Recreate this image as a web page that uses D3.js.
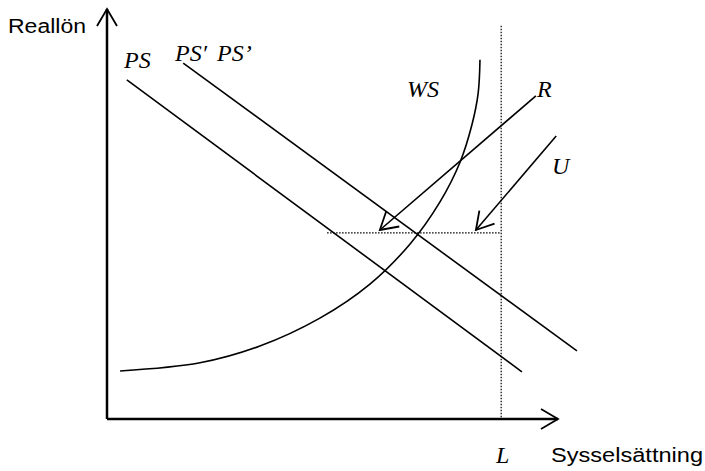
<!DOCTYPE html>
<html>
<head>
<meta charset="utf-8">
<script src="https://cdn.jsdelivr.net/npm/d3@7"></script>
<style>
  body { margin: 0; background: #fff; }
  .lab { font-family: "Liberation Sans", Arial, sans-serif; font-size: 19.5px; }
  .sym { font-family: "Liberation Serif", "Times New Roman", serif; font-style: italic; font-size: 24px; }
</style>
</head>
<body>
<div id="chart-area"></div>
<script>
// data units: employment (x) and real wage (y), both 0..100
var psLine = [[4.4, 82.7], [92.0, 11.5]];
var psPrimeLine = [[16.9, 86.8], [104.2, 16.6]];
var wsCurve = [[2.9, 11.7], [20.6, 13.7], [33.9, 17.8], [47.2, 24.6], [58.3, 32.9],
    [67.2, 42.7], [73.8, 52.9], [78.3, 62.7], [80.9, 71.7], [82.3, 79.5], [82.7, 87.6]];
var laborForce = 87.4;          // L
var laborTop = 95.9;
var wageLevel = 45.4;           // dotted horizontal
var wageFrom = 48.8;
var arrowR = [[95.1, 78.8], [60.5, 46.1]];
var arrowU = [[99.6, 69.0], [81.8, 46.1]];

var width = 705, height = 471;

var svg = d3.select("#chart-area")
    .append("svg")
        .attr("width", width)
        .attr("height", height);

var x = d3.scaleLinear().domain([0, 100]).range([107, 558]);
var y = d3.scaleLinear().domain([0, 100]).range([419, 9]);

// open arrow head
svg.append("defs").append("marker")
    .attr("id", "head")
    .attr("markerUnits", "userSpaceOnUse")
    .attr("viewBox", "-20 -12 22 24")
    .attr("markerWidth", 22)
    .attr("markerHeight", 24)
    .attr("refX", 0)
    .attr("refY", 0)
    .attr("orient", "auto")
  .append("path")
    .attr("d", "M-17,-10L0,0L-17,10")
    .attr("fill", "none")
    .attr("stroke", "#000")
    .attr("stroke-width", 1.8);

var line = d3.line()
    .x(function(d){ return x(d[0]); })
    .y(function(d){ return y(d[1]); });

// Axes
svg.append("line")
    .attr("x1", x(0)).attr("y1", y(0))
    .attr("x2", x(0)).attr("y2", y(100))
    .attr("stroke", "#000")
    .attr("stroke-width", 2.5)
    .attr("marker-end", "url(#head)");
svg.append("line")
    .attr("x1", x(0)).attr("y1", y(0))
    .attr("x2", x(100)).attr("y2", y(0))
    .attr("stroke", "#000")
    .attr("stroke-width", 2.5)
    .attr("marker-end", "url(#head)");

// Dotted guides
svg.append("line")
    .attr("x1", x(laborForce)).attr("y1", y(laborTop))
    .attr("x2", x(laborForce)).attr("y2", y(0))
    .attr("stroke", "#000")
    .attr("stroke-width", 1.2)
    .attr("stroke-dasharray", "1.5,1.5");
svg.append("line")
    .attr("x1", x(wageFrom)).attr("y1", y(wageLevel))
    .attr("x2", x(laborForce)).attr("y2", y(wageLevel))
    .attr("stroke", "#000")
    .attr("stroke-width", 1.2)
    .attr("stroke-dasharray", "1.5,1.5");

// PS, PS', WS
[psLine, psPrimeLine].forEach(function(d){
    svg.append("path")
        .attr("d", line(d))
        .attr("fill", "none")
        .attr("stroke", "#000")
        .attr("stroke-width", 1.6);
});

svg.append("path")
    .attr("d", line.curve(d3.curveCatmullRom)(wsCurve))
    .attr("fill", "none")
    .attr("stroke", "#000")
    .attr("stroke-width", 1.6);
line.curve(d3.curveLinear);

// R and U arrows
[arrowR, arrowU].forEach(function(d){
    svg.append("path")
        .attr("d", line(d))
        .attr("fill", "none")
        .attr("stroke", "#000")
        .attr("stroke-width", 1.6)
        .attr("marker-end", "url(#head)");
});

// Labels (sans labels are a little wide in the original)
svg.append("text").attr("class", "lab").attr("x", 8).attr("y", 33)
    .attr("textLength", 78).attr("lengthAdjust", "spacingAndGlyphs")
    .text("Reallön");
svg.append("text").attr("class", "lab").attr("x", 551).attr("y", 462)
    .attr("textLength", 152).attr("lengthAdjust", "spacingAndGlyphs")
    .text("Sysselsättning");
svg.append("text").attr("class", "sym").attr("x", 124).attr("y", 68).text("PS");
svg.append("text").attr("class", "sym").attr("x", 175).attr("y", 61).text("PS\u2032");
svg.append("text").attr("class", "sym").attr("x", 217).attr("y", 61).text("PS\u2019");
svg.append("text").attr("class", "sym").attr("x", 407).attr("y", 97).text("WS");
svg.append("text").attr("class", "sym").attr("x", 537).attr("y", 97).text("R");
svg.append("text").attr("class", "sym").attr("x", 552).attr("y", 174).text("U");
svg.append("text").attr("class", "sym").attr("x", 496).attr("y", 463).text("L");
</script>
</body>
</html>
